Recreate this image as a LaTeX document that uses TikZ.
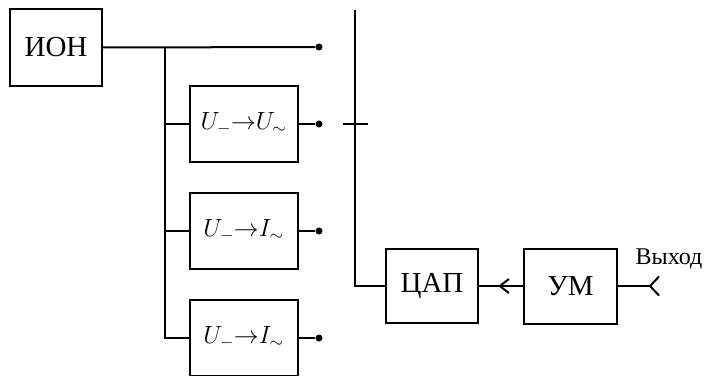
\documentclass[tikz,border=0pt]{standalone}
\usepackage{fontspec}
\setmainfont{Liberation Serif}
\usetikzlibrary{positioning,calc,arrows.meta}

\begin{document}
\begin{tikzpicture}[
    x=1pt, y=-1pt,
    node distance=31pt,
    block/.style={rectangle, draw, line width=2pt, minimum width=108pt, outer sep=0pt,
                  minimum height=76pt, inner sep=0pt, font=\fontsize{25}{30}\selectfont},
    small/.style={block, minimum width=92pt, font=\fontsize{29}{34}\selectfont},
    tap/.style={circle, fill, inner sep=0pt, minimum size=7pt},
    wire/.style={line width=2pt},
    lbl/.style={font=\fontsize{24}{28}\selectfont, inner sep=0pt}
]
\useasboundingbox (0,0) rectangle (706,375);
% source and converters
\node[small, minimum height=77pt] (ion) at (56,47.5) {ИОН};
\node[block] (uu) at (243.5,124) {$U_{-}{\to}U_{\sim}$};
\node[block, below=of uu] (ui1) {$U_{-}{\to}I_{\sim}$};
\node[block, below=of ui1] (ui2) {$U_{-}{\to}I_{\sim}$};
% output taps
\node[tap] (t0) at (319,47) {};
\node[tap] (t1) at (319,124) {};
\node[tap] (t2) at (319,231) {};
\node[tap] (t3) at (319,338) {};
\coordinate (bus) at (165,47);
% DAC chain
\node[small, minimum height=74pt] (dac) at (432,286) {ЦАП};
\node[small, minimum width=93pt, minimum height=75pt, right=46pt of dac] (um) {УМ};
\coordinate (top) at (355,10);
\coordinate (out) at (650,286);
\node[lbl] (outlbl) at (669,258.5) {Выход};
\draw[wire] (ion.east) -- (t0);
\draw[wire] (bus) |- (ui2.west);
\draw[wire] (bus |- uu.west) -- (uu.west);
\draw[wire] (bus |- ui1.west) -- (ui1.west);
\draw[wire] (uu.east) -- (t1);
\draw[wire] (ui1.east) -- (t2);
\draw[wire] (ui2.east) -- (t3);
\draw[wire] (top) |- (dac.west);
\draw[wire] ($(top |- t1)+(-12,0)$) -- ++(25,0);
\draw[wire] (um.west) -- (dac.east);
\draw[wire, -{Straight Barb[length=9pt, width=14pt, line width=2pt]}]
    (um.west) -- ($(um.west)!0.56!(dac.east)$);
\draw[wire] (um.east) -- (out);
\draw[wire] ($(out)+(9,-9.5)$) -- (out) -- ($(out)+(9,9.5)$);
\end{tikzpicture}
\end{document}
